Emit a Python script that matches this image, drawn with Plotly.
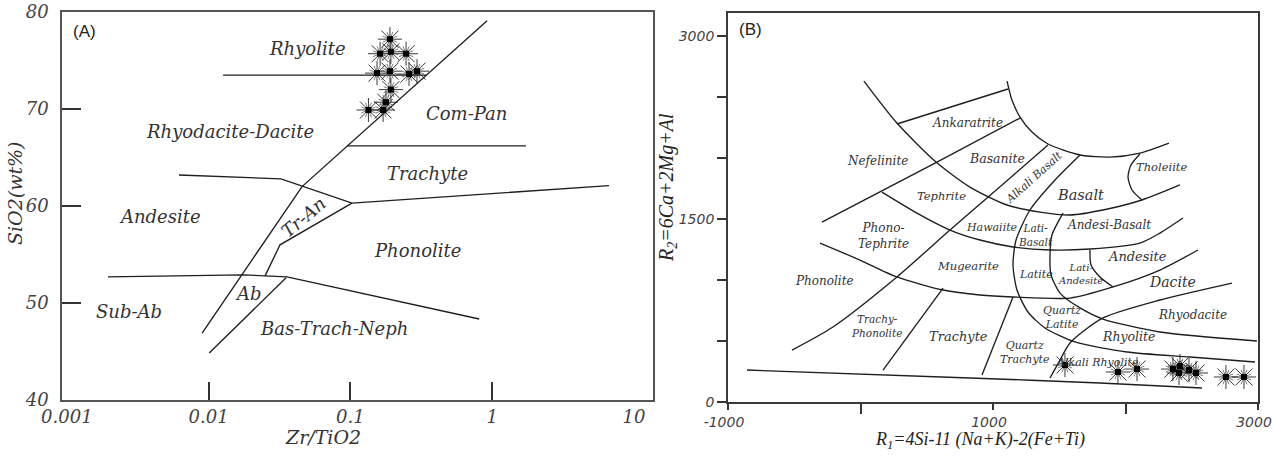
import plotly.graph_objects as go

# ---------------- Panel A : SiO2 vs Zr/TiO2 ----------------
a_zr_tio2 = [0.19, 0.193, 0.162, 0.247, 0.154, 0.19, 0.259, 0.295, 0.193, 0.178, 0.134, 0.17]
a_sio2 = [77.2, 75.9, 75.7, 75.7, 73.7, 73.9, 73.6, 73.9, 72.0, 70.7, 69.9, 69.9]

# field boundaries (Zr/TiO2, SiO2 wt%)
a_diag_x = [0.009, 0.0456, 0.92]
a_diag_y = [46.9, 62.0, 79.1]
a_subab_x = [0.00195, 0.0175, 0.0357, 0.81]
a_subab_y = [52.7, 52.9, 52.7, 48.35]
a_ab_x = [0.0101, 0.0352]
a_ab_y = [44.85, 52.6]
a_tran_x = [0.025, 0.0319, 0.1026]
a_tran_y = [52.8, 56.0, 60.3]
a_andes_x = [0.00618, 0.0324, 0.1026, 6.66]
a_andes_y = [63.2, 62.8, 60.3, 62.1]
a_compan_x = [0.0946, 1.73]
a_compan_y = [66.2, 66.2]
a_rhyol_x = [0.01264, 0.347]
a_rhyol_y = [73.5, 73.5]

a_xticks = [0.001, 0.01, 0.1, 1, 10]
a_xtick_text = ["0.001", "0.01", "0.1", "1", "10"]
a_yticks = [40, 50, 60, 70, 80]

# ---------------- Panel B : R1-R2 ----------------
b_r1 = [1543, 1943, 2087, 2358, 2411, 2404, 2479, 2532, 2758, 2894]
b_r2 = [303, 246, 270, 270, 295, 238, 262, 238, 205, 205]

b_outer_x = [26, 275, 570, 826, 1106, 1355, 1581, 1830, 2124, 2411]
b_outer_y = [2631, 2287, 1967, 1762, 1615, 1557, 1533, 1574, 1656, 1779]
b_inner_x = [1106, 1143, 1204, 1294, 1415, 1657, 1883, 2109, 2328]
b_inner_y = [2631, 2475, 2336, 2213, 2115, 2025, 2008, 2041, 2123]
b_thol_x = [2109, 2041, 2019, 2049, 2124]
b_thol_y = [2033, 1943, 1844, 1738, 1656]
b_ank_x = [275, 1113]
b_ank_y = [2279, 2566]
b_basan_x = [-291, 147, 577, 1204]
b_basan_y = [1475, 1721, 1967, 2328]
b_alkw_x = [1415, 955, 675, 275, -208, -517]
b_alkw_y = [2107, 1672, 1410, 1025, 615, 426]
b_alke_x = [1657, 1468, 1279, 1174, 1151, 1181, 1264, 1392, 1619, 2011, 2487, 2977]
b_alke_y = [2025, 1820, 1574, 1328, 1123, 918, 738, 607, 492, 410, 369, 328]
b_latb_x = [1528, 1445, 1430, 1438, 1506, 1657, 1830, 2260, 2992]
b_latb_y = [1549, 1369, 1205, 1041, 893, 771, 680, 574, 500]
b_haw_x = [162, 426, 675, 902, 1151, 1430, 1732, 2109, 2260, 2434]
b_haw_y = [1721, 1549, 1410, 1328, 1271, 1246, 1254, 1303, 1385, 1508]
b_mug_x = [-306, -4, 275, 623, 902, 1151, 1581, 1906, 2260, 2547]
b_mug_y = [1303, 1164, 1025, 918, 877, 861, 852, 943, 1082, 1246]
b_latand_x = [1732, 1740, 1807, 1906]
b_latand_y = [1246, 1123, 1025, 943]
b_trph_x = [623, 170]
b_trph_y = [934, 262]
b_qtr_x = [1151, 917]
b_qtr_y = [861, 221]
b_dac_x = [2804, 2260, 1830, 1581, 1506, 1430]
b_dac_y = [975, 836, 689, 484, 344, 197]
b_base_x = [-857, 826, 1807, 2577]
b_base_y = [262, 197, 156, 115]

b_xticks = [-1000, 1000, 3000]
b_xtick_text = ["-1000", "1000", "3000"]
b_yticks = [0, 1500, 3000]

W, H = 1273, 456
LINE = dict(color="#1e1e1e", width=1.35)
SERIF = "DejaVu Serif"

fig = go.Figure()


def boundary(xs, ys, xa, ya, smooth=False):
    fig.add_trace(go.Scatter(
        x=xs, y=ys, mode="lines", xaxis=xa, yaxis=ya,
        line=dict(LINE, shape="spline" if smooth else "linear", smoothing=0.7),
        hoverinfo="skip", showlegend=False))


def stars(xs, ys, xa, ya):
    # sunburst symbol: two rotated asterisks with a solid square core
    fig.add_trace(go.Scatter(
        x=xs, y=ys, mode="markers", xaxis=xa, yaxis=ya, showlegend=False,
        marker=dict(symbol="asterisk-open", size=20, color="#222",
                    line=dict(color="#222", width=0.9))))
    fig.add_trace(go.Scatter(
        x=xs, y=ys, mode="markers", xaxis=xa, yaxis=ya, showlegend=False,
        marker=dict(symbol="asterisk-open", size=13, angle=22.5, color="#444",
                    line=dict(color="#444", width=0.7))))
    fig.add_trace(go.Scatter(
        x=xs, y=ys, mode="markers", xaxis=xa, yaxis=ya, showlegend=False,
        marker=dict(symbol="square", size=6, color="black")))


for xs, ys in [(a_diag_x, a_diag_y), (a_subab_x, a_subab_y), (a_ab_x, a_ab_y),
               (a_tran_x, a_tran_y), (a_andes_x, a_andes_y),
               (a_compan_x, a_compan_y), (a_rhyol_x, a_rhyol_y)]:
    boundary(xs, ys, "x", "y")
stars(a_zr_tio2, a_sio2, "x", "y")

for xs, ys, sm in [(b_outer_x, b_outer_y, True), (b_inner_x, b_inner_y, True),
                   (b_thol_x, b_thol_y, True), (b_ank_x, b_ank_y, False),
                   (b_basan_x, b_basan_y, False), (b_alkw_x, b_alkw_y, True),
                   (b_alke_x, b_alke_y, True), (b_latb_x, b_latb_y, True),
                   (b_haw_x, b_haw_y, True), (b_mug_x, b_mug_y, True),
                   (b_latand_x, b_latand_y, True), (b_trph_x, b_trph_y, False),
                   (b_qtr_x, b_qtr_y, False), (b_dac_x, b_dac_y, True),
                   (b_base_x, b_base_y, True)]:
    boundary(xs, ys, "x2", "y2", sm)
stars(b_r1, b_r2, "x2", "y2")

ann = []
CENTER = dict(xanchor="center", yanchor="middle", showarrow=False)

# field names, panel A (x as log10)
a_fields = [
    ("Rhyolite", -1.30, 76.2, 0), ("Rhyodacite-Dacite", -1.849, 67.7, 0),
    ("Com-Pan", -0.178, 69.5, 0), ("Trachyte", -0.453, 63.4, 0),
    ("Andesite", -2.343, 58.9, 0), ("Tr-An", -1.334, 58.8, -40),
    ("Phonolite", -0.530, 55.4, 0), ("Ab", -1.722, 51.0, 0),
    ("Sub-Ab", -2.562, 49.1, 0), ("Bas-Trach-Neph", -1.116, 47.4, 0),
]
for t, x, y, ang in a_fields:
    ann.append(dict(CENTER, text=t, x=x, y=y, xref="x", yref="y", textangle=ang,
                    font=dict(family=SERIF, size=18, color="#333", style="italic")))

# field names, panel B
b_fields = [
    ("Ankaratrite", 811, 2287, 12, 0), ("Nefelinite", 132, 1975, 12, 0),
    ("Basanite", 1030, 2000, 12.5, 0), ("Tephrite", 615, 1689, 11.5, 0),
    ("Alkali Basalt", 1309, 1844, 11, -42), ("Phono-<br>Tephrite", 177, 1361, 12, 0),
    ("Hawaiite", 992, 1434, 11, 0), ("Lati-<br>Basalt", 1317, 1369, 10.5, 0),
    ("Mugearite", 811, 1115, 11.5, 0), ("Basalt", 1664, 1697, 14.5, 0),
    ("Tholeiite", 2275, 1926, 11.5, 0), ("Andesi-Basalt", 1875, 1451, 12, 0),
    ("Andesite", 2094, 1189, 13, 0), ("Latite", 1324, 1049, 11, 0),
    ("Lati-<br>Andesite", 1657, 1049, 10, 0), ("Dacite", 2358, 984, 14, 0),
    ("Quartz<br>Latite", 1521, 689, 11, 0), ("Rhyodacite", 2502, 713, 12, 0),
    ("Rhyolite", 2019, 533, 12.5, 0), ("Quartz<br>Trachyte", 1241, 402, 11, 0),
    ("Alkali Rhyolite", 1792, 320, 11, 0), ("Trachyte", 743, 533, 13, 0),
    ("Trachy-<br>Phonolite", 117, 623, 10.5, 0), ("Phonolite", -275, 992, 12, 0),
]
for t, x, y, s, ang in b_fields:
    ann.append(dict(CENTER, text=t, x=x, y=y, xref="x2", yref="y2", textangle=ang,
                    font=dict(family=SERIF, size=s, color="#333", style="italic")))

# panel tags and axis titles
ann += [
    dict(CENTER, text="(A)", x=84 / W, y=1 - 31 / H, xref="paper", yref="paper",
         font=dict(family="Liberation Sans", size=17, color="#222")),
    dict(CENTER, text="(B)", x=750 / W, y=1 - 29 / H, xref="paper", yref="paper",
         font=dict(family="Liberation Sans", size=17, color="#222")),
    dict(CENTER, text="SiO2(wt%)", x=15 / W, y=1 - 193 / H, xref="paper",
         yref="paper", textangle=-90,
         font=dict(family=SERIF, size=19, color="#333", style="italic")),
    dict(CENTER, text="Zr/TiO2", x=323 / W, y=1 - 437 / H, xref="paper", yref="paper",
         font=dict(family=SERIF, size=19, color="#333", style="italic")),
    dict(CENTER, text="R<sub>2</sub>=6Ca+2Mg+Al", x=668 / W, y=1 - 188 / H,
         xref="paper", yref="paper", textangle=-90,
         font=dict(family="Liberation Serif", size=20, color="#222", style="italic")),
    dict(CENTER, text="R<sub>1</sub>=4Si-11 (Na+K)-2(Fe+Ti)", x=980 / W,
         y=1 - 440 / H, xref="paper", yref="paper",
         font=dict(family="Liberation Serif", size=18, color="#222", style="italic")),
]

AX = dict(showline=True, mirror=True, linecolor="#555", linewidth=1.6,
          showgrid=False, zeroline=False, tickmode="array", automargin=False)

fig.update_layout(
    width=W, height=H, autosize=False,
    margin=dict(l=0, r=0, t=0, b=0, autoexpand=False),
    paper_bgcolor="white", plot_bgcolor="white",
    showlegend=False,
    annotations=ann,
    xaxis=dict(AX, domain=[62 / W, 653 / W], anchor="y", type="log",
               range=[-3.034, 1.134], tickvals=a_xticks, ticktext=a_xtick_text,
               ticks="", ticklabelstandoff=0,
               minor=dict(tickmode="array", tickvals=a_xticks[1:4], ticks="inside",
                          ticklen=18, tickwidth=1.5, tickcolor="#333", showgrid=False),
               tickfont=dict(family=SERIF, size=18, color="#444", style="italic")),
    yaxis=dict(AX, domain=[1 - 400 / H, 1 - 12 / H], anchor="x", range=[40, 80],
               tickvals=a_yticks, ticks="", ticklabelstandoff=8,
               minor=dict(tickmode="array", tickvals=a_yticks[1:4], ticks="inside",
                          ticklen=19, tickwidth=1.5, tickcolor="#333", showgrid=False),
               tickfont=dict(family=SERIF, size=18, color="#444", style="italic")),
    xaxis2=dict(AX, domain=[728 / W, 1258 / W], anchor="y2", range=[-1000, 3000],
                tickvals=b_xticks, ticktext=b_xtick_text, ticks="outside", ticklen=6,
                tickwidth=1.5, tickcolor="#333", ticklabelshift=-4,
                ticklabeloverflow="allow", linecolor="#3a3a3a", linewidth=1.8,
                minor=dict(tickmode="array", tickvals=[0, 2000], ticks="outside",
                           ticklen=10, tickwidth=1.5, tickcolor="#333", showgrid=False),
                tickfont=dict(family="DejaVu Sans", size=14, color="#444", style="italic")),
    yaxis2=dict(AX, domain=[1 - 402 / H, 1 - 13 / H], anchor="x2", range=[0, 3189],
                tickvals=b_yticks, ticks="outside", ticklen=9, tickwidth=1.5,
                tickcolor="#333", linecolor="#3a3a3a", linewidth=1.8,
                minor=dict(tickmode="array", tickvals=[500, 1000, 2000, 2500],
                           ticks="outside", ticklen=9, tickwidth=1.5, tickcolor="#333",
                           showgrid=False),
                tickfont=dict(family="DejaVu Sans", size=14, color="#444", style="italic")),
)

fig.write_html("out.html")
